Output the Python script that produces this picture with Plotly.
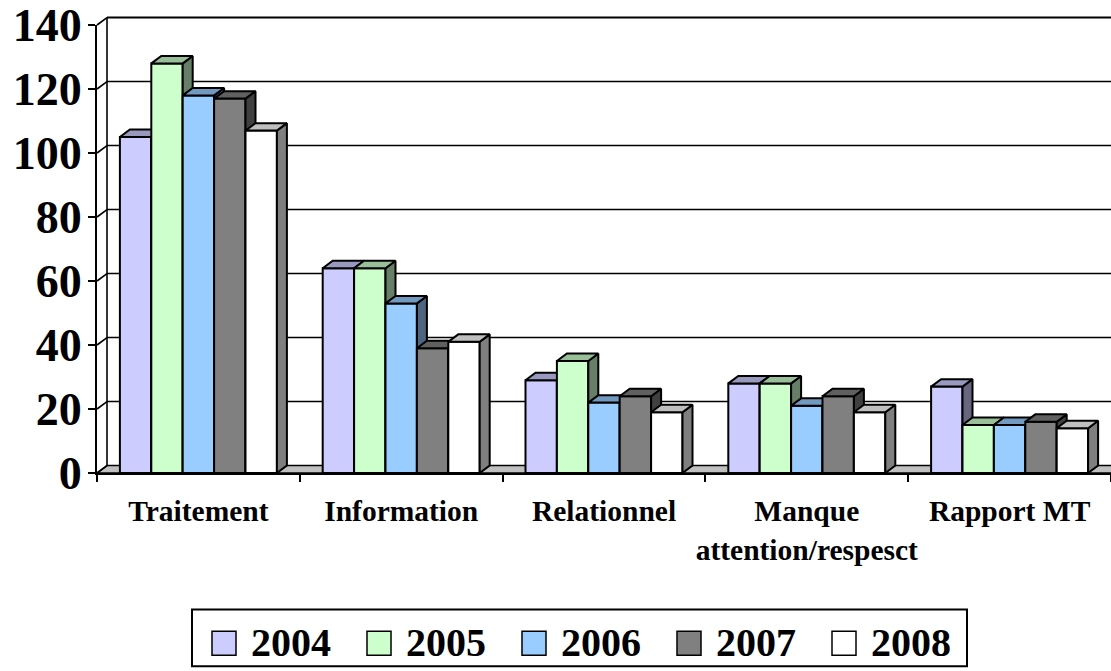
import plotly.graph_objects as go

# ---- data -------------------------------------------------------------
categories = ["Traitement", "Information", "Relationnel",
              "Manque<br>attention/respesct", "Rapport MT"]
years = ["2004", "2005", "2006", "2007", "2008"]
v2004 = [105, 64, 29, 28, 27]
v2005 = [128, 64, 35, 28, 15]
v2006 = [118, 53, 22, 21, 15]
v2007 = [117, 39, 24, 24, 16]
v2008 = [107, 41, 19, 19, 14]
y_ticks = [0, 20, 40, 60, 80, 100, 120, 140]

series = [v2004, v2005, v2006, v2007, v2008]
colors = ["#CCCCFF", "#CCFFCC", "#99CCFF", "#808080", "#FFFFFF"]

# ---- geometry ---------------------------------------------------------
W, H = 1111, 671
ML, MR, MT, MB = 97, 0, 23, 198
PW, PH = W - ML - MR, H - MT - MB
XR = (-0.5, len(categories) - 0.5)
YR = (0, 140)
px_x = PW / (XR[1] - XR[0])          # pixels per category
px_y = PH / (YR[1] - YR[0])          # pixels per value unit
DX = 10 / px_x                       # depth offset, data units
DY = 7.5 / px_y
BAR_W = 31.4 / px_x
FONT = "Liberation Serif, Times New Roman, serif"


def shade(hex_col, f):
    r, g, b = (int(hex_col[i:i + 2], 16) for i in (1, 3, 5))
    return "#%02x%02x%02x" % (int(r * f), int(g * f), int(b * f))


def xp(x):
    return (x - XR[0]) / (XR[1] - XR[0])


def yp(y):
    return (y - YR[0]) / (YR[1] - YR[0])


def pxp(px):          # absolute pixel column -> paper x
    return (px - ML) / PW


def pyp(py):          # absolute pixel row -> paper y
    return (H - MB - py) / PH


fig = go.Figure()
shapes = []
annotations = []

# ---- walls and floor (paper coordinates, drawn under the bars) --------
x_left, x_right = XR[0], XR[1] + 1
floor = "M{},{} L{},{} L{},{} L{},{} Z".format(
    xp(x_left), yp(0), xp(x_left + DX), yp(DY),
    xp(x_right + DX), yp(DY), xp(x_right), yp(0))
shapes.append(dict(type="path", path=floor, xref="paper", yref="paper",
                   fillcolor="#C0C0C0", line=dict(color="black", width=1.5),
                   layer="below"))
for v in y_ticks[1:]:
    shapes.append(dict(type="line", xref="paper", yref="paper",
                       x0=xp(x_left + DX), x1=xp(x_right + DX),
                       y0=yp(v + DY), y1=yp(v + DY),
                       line=dict(color="black", width=2 if v == y_ticks[-1] else 1.6),
                       layer="below"))
shapes.append(dict(type="line", xref="paper", yref="paper",
                   x0=xp(x_left + DX), x1=xp(x_left + DX),
                   y0=yp(DY), y1=yp(y_ticks[-1] + DY),
                   line=dict(color="black", width=1.6), layer="below"))
for v in y_ticks:
    shapes.append(dict(type="line", xref="paper", yref="paper",
                       x0=xp(x_left), x1=xp(x_left + DX),
                       y0=yp(v), y1=yp(v + DY),
                       line=dict(color="black", width=1.6), layer="below"))

# ---- 3-D bars: one overlaid layer per series so each layer hides the
#      side faces of the series to its left --------------------------
for k, (name, vals, col) in enumerate(zip(years, series, colors)):
    xa = "x" if k == 0 else "x%d" % (k + 1)
    ya = "y" if k == 0 else "y%d" % (k + 1)
    off = -2.5 * BAR_W + k * BAR_W
    fig.add_trace(go.Bar(
        x=list(range(len(categories))), y=vals, name=name,
        width=BAR_W, offset=off, xaxis=xa, yaxis=ya,
        marker=dict(color=col, line=dict(color="black", width=2)),
        showlegend=False, hoverinfo="skip"))
    for i, v in enumerate(vals):
        x0 = i + off
        x1 = x0 + BAR_W
        side_x = [x1, x1, x1 + DX, x1 + DX, x1]
        side_y = [0, v, v + DY, DY, 0]
        top_x = [x0, x0 + DX, x1 + DX, x1, x0]
        top_y = [v, v + DY, v + DY, v, v]
        for px_, py_, f in ((side_x, side_y, 0.5), (top_x, top_y, 0.75)):
            fig.add_trace(go.Scatter(
                x=px_, y=py_, mode="lines", fill="toself",
                fillcolor=shade(col, f), line=dict(color="black", width=2),
                xaxis=xa, yaxis=ya, showlegend=False, hoverinfo="skip"))

# ---- legend ----------------------------------------------------------
shapes.append(dict(type="rect", xref="paper", yref="paper",
                   x0=pxp(192), x1=pxp(967), y0=pyp(610), y1=pyp(667),
                   line=dict(color="black", width=2), fillcolor="white"))
for k, (name, col) in enumerate(zip(years, colors)):
    sx = 212 + 155 * k
    shapes.append(dict(type="rect", xref="paper", yref="paper",
                       x0=pxp(sx), x1=pxp(sx + 24), y0=pyp(656), y1=pyp(632),
                       line=dict(color="black", width=1.5), fillcolor=col))
    annotations.append(dict(text=name, xref="paper", yref="paper",
                            x=pxp(sx + 37), y=pyp(643.5),
                            xanchor="left", yanchor="middle", showarrow=False,
                            font=dict(family=FONT, size=40, color="black",
                                      weight="bold")))

layout = dict(
    width=W, height=H,
    margin=dict(l=ML, r=MR, t=MT, b=MB, pad=0),
    paper_bgcolor="white", plot_bgcolor="rgba(0,0,0,0)",
    barmode="overlay", showlegend=False,
    shapes=shapes, annotations=annotations,
    xaxis=dict(range=list(XR), tickmode="array",
               tickvals=list(range(len(categories))), ticktext=categories,
               ticks="", showgrid=False, zeroline=False,
               showline=True, linecolor="black", linewidth=2,
               tickfont=dict(family=FONT, size=29.5, color="black", weight="bold"),
               ticklabelstandoff=11, ticklabeloverflow="allow",
               minor=dict(tickmode="array",
                          tickvals=[c - 0.5 for c in range(len(categories) + 1)],
                          ticks="outside", ticklen=7, tickwidth=2,
                          tickcolor="black", showgrid=False),
               fixedrange=True),
    yaxis=dict(range=list(YR), tickmode="array", tickvals=y_ticks,
               ticks="outside", ticklen=7, tickwidth=2, tickcolor="black",
               showgrid=False, zeroline=False,
               showline=True, linecolor="black", linewidth=2,
               tickfont=dict(family=FONT, size=46, color="black", weight="bold"),
               ticklabelstandoff=-3, ticklabeloverflow="allow", fixedrange=True),
)
for k in range(2, len(years) + 1):
    layout["xaxis%d" % k] = dict(range=list(XR), overlaying="x", anchor="y%d" % k,
                                 visible=False, fixedrange=True)
    layout["yaxis%d" % k] = dict(range=list(YR), overlaying="y", anchor="x%d" % k,
                                 visible=False, fixedrange=True)
fig.update_layout(**layout)

fig.write_html("out.html")
